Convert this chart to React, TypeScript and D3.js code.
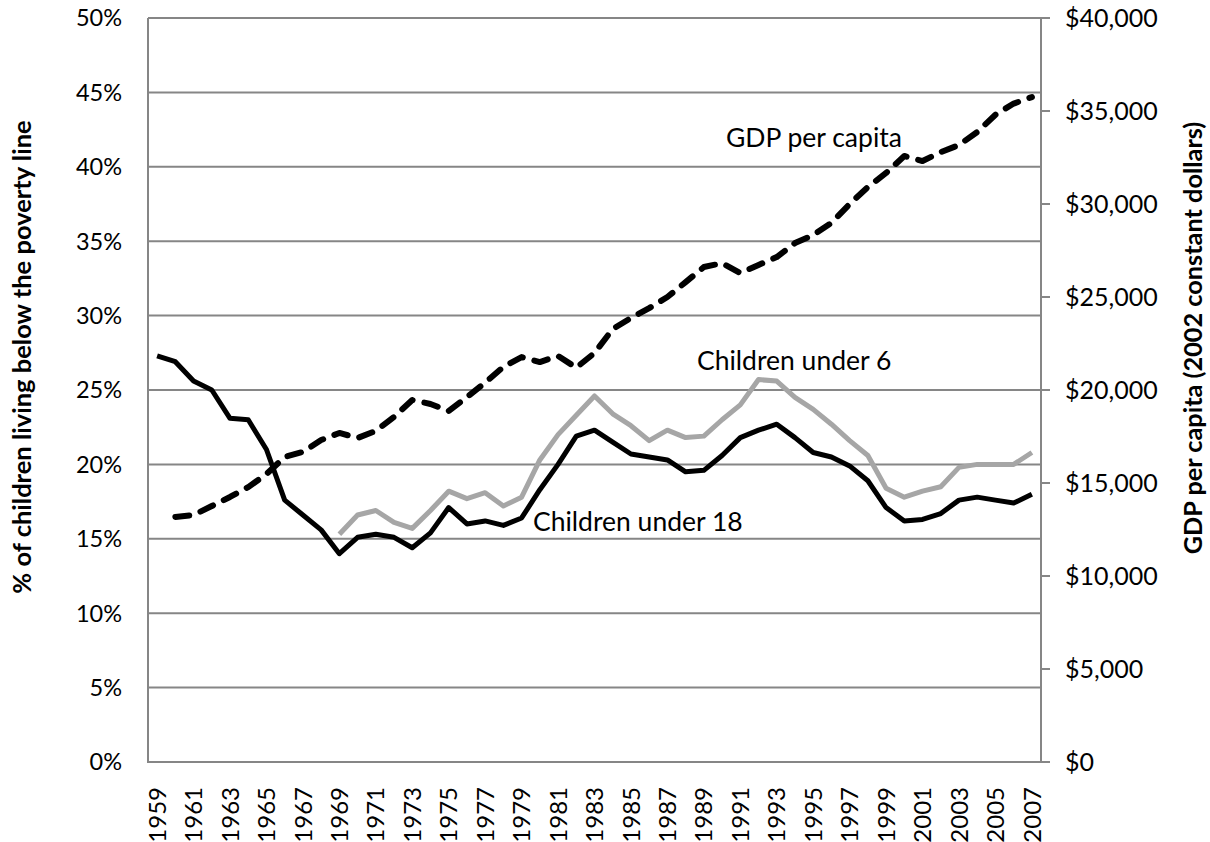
import React from 'react';
import * as d3 from 'd3';

// categories
const years = [
  1959, 1960, 1961, 1962, 1963, 1964, 1965, 1966, 1967, 1968, 1969, 1970, 1971, 1972, 1973, 1974,
  1975, 1976, 1977, 1978, 1979, 1980, 1981, 1982, 1983, 1984, 1985, 1986, 1987, 1988, 1989, 1990,
  1991, 1992, 1993, 1994, 1995, 1996, 1997, 1998, 1999, 2000, 2001, 2002, 2003, 2004, 2005, 2006,
  2007,
];

// % of children below poverty line, children under 18
const under18 = [
  27.3, 26.9, 25.6, 25.0, 23.1, 23.0, 21.0, 17.6, 16.6, 15.6, 14.0, 15.1, 15.3, 15.1, 14.4, 15.4,
  17.1, 16.0, 16.2, 15.9, 16.4, 18.3, 20.0, 21.9, 22.3, 21.5, 20.7, 20.5, 20.3, 19.5, 19.6, 20.6,
  21.8, 22.3, 22.7, 21.8, 20.8, 20.5, 19.9, 18.9, 17.1, 16.2, 16.3, 16.7, 17.6, 17.8, 17.6, 17.4,
  18.0,
];

// children under 6 (series starts in 1969)
const under6 = [
  null, null, null, null, null, null, null, null, null, null, 15.3, 16.6, 16.9, 16.1, 15.7, 16.9,
  18.2, 17.7, 18.1, 17.2, 17.8, 20.3, 22.0, 23.3, 24.6, 23.4, 22.6, 21.6, 22.3, 21.8, 21.9, 23.0,
  24.0, 25.7, 25.6, 24.5, 23.7, 22.7, 21.6, 20.6, 18.4, 17.8, 18.2, 18.5, 19.8, 20.0, 20.0, 20.0,
  20.8,
];

// GDP per capita, 2002 constant dollars (series starts in 1960)
const gdp = [
  null, 13170, 13280, 13760, 14250, 14780, 15480, 16400, 16670, 17310, 17690, 17420, 17800, 18550,
  19460, 19250, 18870, 19620, 20400, 21240, 21770, 21500, 21830, 21200, 21990, 23280, 23870, 24400,
  25000, 25800, 26610, 26820, 26290, 26720, 27150, 27900, 28330, 28980, 30000, 30910, 31670, 32580,
  32310, 32790, 33170, 33870, 34800, 35400, 35750,
];

const pctTicks = [0, 5, 10, 15, 20, 25, 30, 35, 40, 45, 50];
const gdpTicks = [0, 5000, 10000, 15000, 20000, 25000, 30000, 35000, 40000];

const W = 1210;
const H = 842;
const left = 148;
const right = 1041;
const top = 18;
const bottom = 762;
const FONT = 'Lato, "Open Sans", sans-serif';
const GRID = '#868686';

export default function App() {
  const x = d3.scaleBand<number>().domain(years).range([left, right]).padding(0);
  const cx = (i: number) => (x(years[i]) as number) + x.bandwidth() / 2;
  const yPct = d3.scaleLinear().domain([0, 50]).range([bottom, top]);
  const yGdp = d3.scaleLinear().domain([0, 40000]).range([bottom, top]);

  const pctLine = d3
    .line<number | null>()
    .defined((d) => d != null)
    .x((d, i) => cx(i))
    .y((d) => yPct(d as number));
  const gdpLine = d3
    .line<number | null>()
    .defined((d) => d != null)
    .x((d, i) => cx(i))
    .y((d) => yGdp(d as number));

  return (
    <svg
      width={W}
      height={H}
      style={{ position: 'absolute', left: 0, top: 0, background: '#fff' }}
      fontFamily={FONT}
    >
      {/* gridlines */}
      {pctTicks.slice(1).map((t) => (
        <line key={t} x1={left} x2={right} y1={yPct(t)} y2={yPct(t)} stroke={GRID} strokeWidth={2} />
      ))}
      {/* axes */}
      <line x1={left} x2={left} y1={top} y2={bottom} stroke={GRID} strokeWidth={2} />
      <line x1={right} x2={right} y1={top} y2={bottom} stroke={GRID} strokeWidth={2} />
      <line x1={left - 1} x2={right + 1} y1={bottom} y2={bottom} stroke={GRID} strokeWidth={2} />
      {gdpTicks.map((t) => (
        <line key={t} x1={right} x2={right + 9} y1={yGdp(t)} y2={yGdp(t)} stroke={GRID} strokeWidth={2} />
      ))}

      {/* left tick labels */}
      {pctTicks.map((t) => (
        <text key={t} x={122} y={yPct(t)} dy="0.36em" textAnchor="end" fontSize={23.5} fill="#000">
          {t + '%'}
        </text>
      ))}
      {/* right tick labels */}
      {gdpTicks.map((t) => (
        <text key={t} x={1065} y={yGdp(t)} dy="0.36em" textAnchor="start" fontSize={25} fill="#000">
          {d3.format('$,')(t)}
        </text>
      ))}
      {/* year labels */}
      {years.map((yr, i) =>
        i % 2 === 0 ? (
          <text
            key={yr}
            transform={`translate(${cx(i)},787) rotate(-90)`}
            dy="0.36em"
            textAnchor="end"
            fontSize={24}
            fill="#000"
          >
            {yr}
          </text>
        ) : null
      )}

      {/* axis titles */}
      <text
        transform="translate(22,357) rotate(-90)"
        dy="0.36em"
        textAnchor="middle"
        fontSize={25.5}
        fontWeight="bold"
        fill="#000"
      >
        % of children living below the poverty line
      </text>
      <text
        transform="translate(1193,338) rotate(-90)"
        dy="0.36em"
        textAnchor="middle"
        fontSize={25.3}
        fontWeight="bold"
        fill="#000"
      >
        GDP per capita (2002 constant dollars)
      </text>

      {/* series */}
      <path d={pctLine(under6) || ''} fill="none" stroke="#a6a6a6" strokeWidth={5} strokeLinejoin="round" />
      <path d={pctLine(under18) || ''} fill="none" stroke="#000" strokeWidth={5} strokeLinejoin="round" />
      <path
        d={gdpLine(gdp) || ''}
        fill="none"
        stroke="#000"
        strokeWidth={6}
        strokeDasharray="14 12"
        strokeLinecap="round"
        strokeLinejoin="round"
      />

      {/* series labels */}
      <text x={726} y={147} fontSize={26.5} fill="#000">GDP per capita</text>
      <text x={697} y={370} fontSize={26.5} fill="#000">Children under 6</text>
      <text x={533} y={531} fontSize={26.5} fill="#000">Children under 18</text>
    </svg>
  );
}
